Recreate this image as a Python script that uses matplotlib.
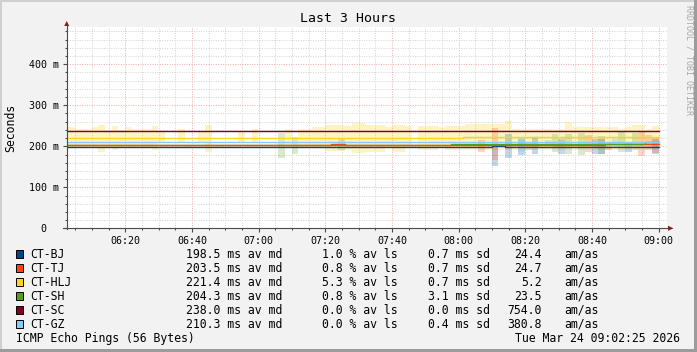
import matplotlib
matplotlib.use("Agg")
import matplotlib.pyplot as plt
from matplotlib.patches import Rectangle, Polygon
from matplotlib.lines import Line2D

# ----------------------------------------------------------------------------
# data (time in minutes after 06:00, latency in ms)
# ----------------------------------------------------------------------------
T_START, T_END = 2.4, 182.4   # 06:02:25 .. 09:02:25

NAMES = ["CT-BJ", "CT-TJ", "CT-HLJ", "CT-SH", "CT-SC", "CT-GZ"]
COLORS = ["#004586", "#ff420e", "#ffd320", "#579d1c", "#7e0021", "#83caff"]

MEDIAN = [198.5, 203.5, 221.4, 204.3, 238.0, 210.3]
LOSS = [1.0, 0.8, 5.3, 0.8, 0.0, 0.0]
SDEV = [0.7, 0.7, 0.7, 3.1, 0.0, 0.4]
AMAS = [24.4, 24.7, 5.2, 23.5, 754.0, 380.8]

# median lines as step series (change times, values)
bj_t = [2.4, 100, 130, 134, 150, 168, 180]
bj_v = [198, 198.5, 200.5, 198, 197.5, 198.5]
tj_t = [2.4, 81.7, 85.9, 117.7, 134, 138, 154, 164, 180]
tj_v = [202.3, 205, 202.3, 204, 202.5, 203.5, 202.5, 204.5]
hlj_t = [2.4, 121.4, 180]
hlj_v = [219.5, 222.3]
sh_t = [2.4, 117.7, 126, 130, 140, 146, 156, 162, 176, 180]
sh_v = [202.3, 205, 206.5, 205, 206, 204.5, 206.5, 205, 210]
sc_t = [2.4, 180]
sc_v = [238]
gz_t = [2.4, 180]
gz_v = [210]

# smoke segments: start, end, low, high
hlj_s0 = [2.4, 4.9, 9.9, 11.9, 13.9, 15.9, 17.9, 19.9, 21.9, 27.9, 29.9, 35.9,
          41.9, 43.9, 53.9, 57.9, 67.9, 71.9, 73.9, 75.9, 79.9, 85.9, 87.9,
          91.9, 97.9, 99.9, 103.9, 107.9, 113.9, 115.9, 121.9, 129.9, 133.9,
          135.9, 145.9, 151.9, 153.9, 167.9, 169.9, 171.9, 175.9, 177.9]
hlj_s1 = [4.9, 9.9, 11.9, 13.9, 15.9, 17.9, 19.9, 21.9, 27.9, 29.9, 31.9, 37.9,
          43.9, 45.9, 55.9, 59.9, 69.9, 73.9, 75.9, 79.9, 85.9, 87.9, 91.9,
          97.9, 99.9, 103.9, 105.9, 113.9, 115.9, 121.9, 129.9, 133.9, 135.9,
          145.9, 151.9, 153.9, 167.9, 169.9, 171.9, 175.9, 177.9, 180.0]
hlj_lo = [195, 199, 195, 187, 195, 191, 199, 195, 199, 191, 211, 211,
          211, 187, 211, 211, 199, 199, 199, 195, 189, 191, 183,
          187, 195, 187, 195, 191, 195, 191, 190, 190, 190,
          190, 190, 190, 190, 190, 190, 190, 190, 190]
hlj_hi = [246, 241, 246, 252, 240, 250, 240, 246, 241, 250, 236, 241,
          236, 252, 236, 241, 242, 243, 241, 246, 251, 250, 258,
          252, 246, 252, 250, 250, 246, 250, 254, 255, 262,
          242, 241, 260, 246, 241, 246, 252, 242, 250]

tj_s0 = [125.9, 129.9, 139.9, 157.9, 163.9, 173.9, 175.9, 177.9]
tj_s1 = [127.9, 131.9, 141.9, 159.9, 165.9, 175.9, 177.9, 180.0]
tj_lo = [187, 167, 191, 187, 191, 177, 191, 183]
tj_hi = [215, 244, 207, 228, 207, 236, 228, 220]

bj_s0 = [129.9, 133.9, 137.9, 141.9, 149.9, 159.9, 169.9, 177.9]
bj_s1 = [131.9, 135.9, 139.9, 143.9, 151.9, 163.9, 171.9, 180.0]
bj_lo = [153, 172, 179, 181, 181, 181, 187, 181]
bj_hi = [200, 229, 219, 221, 219, 219, 207, 219]

sh_s0 = [65.9, 69.9, 83.9, 147.9, 151.9, 155.9, 161.9, 167.9, 171.9]
sh_s1 = [67.9, 71.9, 85.9, 149.9, 153.9, 157.9, 163.9, 169.9, 173.9]
sh_lo = [172, 181, 191, 187, 181, 179, 181, 187, 191]
sh_hi = [233, 223, 221, 229, 229, 233, 225, 235, 233]

gz_s0 = [137.9, 145.9, 165.9]
gz_s1 = [139.9, 147.9, 167.9]
gz_lo = [185, 200, 195]
gz_hi = [220, 215, 218]

# ----------------------------------------------------------------------------
# figure
# ----------------------------------------------------------------------------
W, H = 697, 352
BG = "#f2f2f2"
MONO = "DejaVu Sans Mono"
AXC = "#4a4a4a"


def fx(x):
    return x / W


def fy(y):
    return 1 - y / H


fig = plt.figure(figsize=(W / 100, H / 100), dpi=100, facecolor=BG)

x0, x1, y0, y1 = 66.7, 666.7, 228.3, 27.4
ax = fig.add_axes([fx(x0), fy(y0), (x1 - x0) / W, (y0 - y1) / H])
ax.set_facecolor("white")
ax.set_xlim(T_START, T_END)
ax.set_ylim(0, 490)

# grid
ax.set_xticks(list(range(20, 181, 20)))
ax.set_xticks([m for m in range(5, 183, 5) if m % 20], minor=True)
ax.set_yticks([0, 100, 200, 300, 400])
ax.set_yticks([v for v in range(20, 490, 20) if v % 100], minor=True)
ax.grid(which="minor", color="#d2d2d2", linestyle=(0, (1, 1.5)), linewidth=0.7)
ax.grid(which="major", color="#f2a8a8", linestyle=(0, (1, 1.5)), linewidth=0.7)
ax.set_axisbelow(True)
ax.set_xticklabels([f"{6 + m // 60:02d}:{m % 60:02d}" for m in range(20, 181, 20)],
                   family=MONO, fontsize=7.2)
ax.set_yticklabels(["0  ", "100 m", "200 m", "300 m", "400 m"], family=MONO, fontsize=7.2)
ax.tick_params(which="major", length=3, width=0.8, color=AXC, pad=2.5, labelcolor="black")
ax.tick_params(which="minor", length=1.5, width=0.8, color=AXC)
for s in ax.spines.values():
    s.set_visible(False)

# smoke
smoke = [
    (2, hlj_s0, hlj_s1, hlj_lo, hlj_hi, 0.27),
    (3, sh_s0, sh_s1, sh_lo, sh_hi, 0.22),
    (0, bj_s0, bj_s1, bj_lo, bj_hi, 0.22),
    (5, gz_s0, gz_s1, gz_lo, gz_hi, 0.35),
    (1, tj_s0, tj_s1, tj_lo, tj_hi, 0.22),
]
for i, s0, s1, lo, hi, a in smoke:
    ax.bar(s0, [h - l for h, l in zip(hi, lo)], bottom=lo,
           width=[b - a_ for a_, b in zip(s0, s1)], align="edge",
           color=COLORS[i], alpha=a, linewidth=0)

# median lines
lines = [(bj_t, bj_v), (tj_t, tj_v), (hlj_t, hlj_v),
         (sh_t, sh_v), (sc_t, sc_v), (gz_t, gz_v)]
for i, (t, v) in enumerate(lines):
    ax.step(t, v + [v[-1]], where="post", color=COLORS[i], linewidth=1.0)

# axis lines with arrows
fig.add_artist(Line2D([fx(x0), fx(x0)], [fy(229), fy(25.5)], color=AXC, lw=0.8))
fig.add_artist(Line2D([fx(63), fx(668.5)], [fy(y0), fy(y0)], color=AXC, lw=0.8))
fig.add_artist(Polygon([[fx(x0 - 2.5), fy(26)], [fx(x0 + 2.5), fy(26)], [fx(x0), fy(21)]],
                       closed=True, color="#8b1a1a", lw=0))
fig.add_artist(Polygon([[fx(668), fy(y0 - 2.5)], [fx(668), fy(y0 + 2.5)], [fx(673.5), fy(y0)]],
                       closed=True, color="#8b1a1a", lw=0))

# texts
fig.text(fx(348), fy(19), "Last 3 Hours", family=MONO, fontsize=9.5,
         ha="center", va="center")
fig.text(fx(11), fy(127.5), "Seconds", family=MONO, fontsize=8.3,
         rotation=90, ha="center", va="center")
fig.text(fx(689), fy(5), "RRDTOOL / TOBI OETIKER", family=MONO, fontsize=6,
         rotation=270, ha="center", va="top", color="#a8a8a8")

# legend
row_y = [254, 268, 282, 296, 310, 324]
for i, name in enumerate(NAMES):
    y = row_y[i]
    fig.add_artist(Rectangle((fx(16), fy(y + 4)), 7 / W, 8 / H, facecolor=COLORS[i],
                             edgecolor="black", linewidth=0.7))
    kw = dict(family=MONO, fontsize=8.3, va="center", ha="left")
    fig.text(fx(30.7), fy(y), name, **kw)
    fig.text(fx(186), fy(y), f"{MEDIAN[i]:5.1f} ms av md", **kw)
    fig.text(fx(321.7), fy(y), f"{LOSS[i]:3.1f} % av ls", **kw)
    fig.text(fx(428.3), fy(y), f"{SDEV[i]:3.1f} ms sd", **kw)
    fig.text(fx(541.7), fy(y), f"{AMAS[i]:.1f}", family=MONO, fontsize=8.3,
             va="center", ha="right")
    fig.text(fx(564), fy(y), "am/as", **kw)

fig.text(fx(16), fy(338.5), "ICMP Echo Pings (56 Bytes)", family=MONO, fontsize=8.3,
         va="center", ha="left")
fig.text(fx(680), fy(338.5), "Tue Mar 24 09:02:25 2026", family=MONO, fontsize=8.3,
         va="center", ha="right")

# frame
fig.add_artist(Rectangle((0, fy(1.5)), 1, 1.5 / H, color="#d0d0d0", lw=0))
fig.add_artist(Rectangle((0, 0), 1.5 / W, 1, color="#d0d0d0", lw=0))
fig.add_artist(Rectangle((0, 0), 1, 3 / H, color="#9c9c9c", lw=0))
fig.add_artist(Rectangle((fx(694), 0), 3 / W, 1, color="#9c9c9c", lw=0))

fig.savefig("out.png", dpi=100, facecolor=BG)
